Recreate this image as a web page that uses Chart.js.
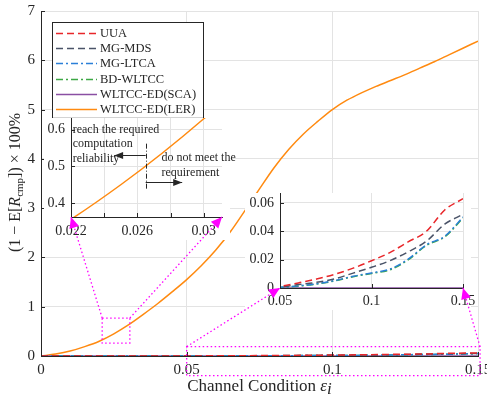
<!DOCTYPE html>
<html>
<head>
<meta charset="utf-8">
<script src="https://cdn.jsdelivr.net/npm/chart.js@4.4.1/dist/chart.umd.min.js"></script>
<style>
  body { margin: 0; width: 487px; height: 396px; overflow: hidden; background: #fff; position: relative; }
  canvas { position: absolute; }
</style>
</head>
<body>
<canvas id="mainChart" width="487" height="396" style="left:0;top:0"></canvas>
<canvas id="zoomLerChart" width="210" height="140" style="left:44px;top:100px"></canvas>
<canvas id="zoomLowChart" width="240" height="125" style="left:245px;top:185px"></canvas>
<canvas id="links" width="487" height="396" style="left:0;top:0"></canvas>
<script>
const FONT = "'Liberation Serif', 'Times New Roman', serif";
const INK = "#262626";
const GRID = "#e3e3e3";
const MAGENTA = "#ff00ff";

// series names (legend order)
const seriesNames = ["UUA", "MG-MDS", "MG-LTCA", "BD-WLTCC", "WLTCC-ED(SCA)", "WLTCC-ED(LER)"];

// channel condition samples
const epsFine = [0, 0.005, 0.01, 0.015, 0.02, 0.025, 0.03, 0.035, 0.04, 0.045, 0.05, 0.055, 0.06, 0.065, 0.07,
  0.075, 0.08, 0.085, 0.09, 0.095, 0.1, 0.105, 0.11, 0.115, 0.12, 0.125, 0.13, 0.135, 0.14, 0.145, 0.15];
const epsCoarse = [0, 0.01, 0.02, 0.03, 0.04, 0.05, 0.06, 0.07, 0.08, 0.09, 0.1, 0.11, 0.12, 0.13, 0.14, 0.15];

// (1 - E[R_cmp]) x 100%
const lerValues = [0, 0.04, 0.1, 0.19, 0.3, 0.45, 0.63, 0.84, 1.06, 1.3, 1.55, 1.83, 2.15, 2.52, 2.95,
  3.39, 3.82, 4.19, 4.5, 4.76, 5.0, 5.19, 5.34, 5.47, 5.59, 5.71, 5.84, 5.97, 6.11, 6.25, 6.39];
const uuaValues = [0, 0.0001, 0.0002, 0.0003, 0.0005, 0.0012, 0.0036, 0.0063, 0.0097, 0.014, 0.0192, 0.025, 0.0325, 0.040, 0.055, 0.063];
const mdsValues = [0, 0.0001, 0.0001, 0.0002, 0.0004, 0.0007, 0.0024, 0.004, 0.0065, 0.0105, 0.0146, 0.0192, 0.0255, 0.033, 0.045, 0.052];
const ltcaValues = [0, 0, 0.0001, 0.0002, 0.0003, 0.0005, 0.0015, 0.003, 0.0053, 0.0083, 0.0106, 0.0133, 0.0203, 0.0305, 0.0365, 0.05];
const bdValues = [0, 0, 0.0001, 0.0001, 0.0002, 0.0004, 0.0013, 0.0028, 0.005, 0.008, 0.0103, 0.0128, 0.0198, 0.030, 0.036, 0.0494];
const scaValues = [0, 0, 0, 0, 0, 0, 0, 0, 0, 0, 0, 0, 0, 0, 0, 0];

// main axes
const mainXRange = [0, 0.15];
const mainXTicks = [0, 0.05, 0.1, 0.15];
const mainXLabels = ["0", "0.05", "0.1", "0.15"];
const mainYRange = [0, 7];
const mainYTicks = [0, 1, 2, 3, 4, 5, 6, 7];
const mainYLabels = ["0", "1", "2", "3", "4", "5", "6", "7"];

// zoom on LER near threshold
const zoomLerX = [0.022, 0.0311];
const zoomLerY = [0.362, 0.632];
const zoomLerXTicks = [0.022, 0.024, 0.026, 0.028, 0.03];
const zoomLerXLabels = ["0.022", "", "0.026", "", "0.03"];
const zoomLerYTicks = [0.4, 0.5, 0.6];
const zoomLerYLabels = ["0.4", "0.5", "0.6"];
const zoomLerBoxX = [0.021, 0.0305];
const zoomLerBoxY = [0.26, 0.77];

// zoom on the low curves
const zoomLowX = [0.05, 0.15];
const zoomLowY = [0, 0.067];
const zoomLowXTicks = [0.05, 0.1, 0.15];
const zoomLowXLabels = ["0.05", "0.1", "0.15"];
const zoomLowYTicks = [0, 0.02, 0.04, 0.06];
const zoomLowYLabels = ["0", "0.02", "0.04", "0.06"];
const zoomLowBoxX = [0.05, 0.1507];
const zoomLowBoxY = [-0.4, 0.19];

// threshold note
const thresholdEps = 0.0265;
const thresholdSpan = [0.435, 0.562];
const reachArrowX = [0.0265, 0.0246];
const reachArrowY = 0.53;
const failArrowX = [0.0265, 0.0287];
const failArrowY = 0.457;
const reachText = ["reach the required", "computation", "reliability"];
const reachTextAt = [0.0221, 0.6];
const failText = ["do not meet the", "requirement"];
const failTextAt = [0.02745, 0.522];

const xTitle = [["Channel Condition ", "", 0], ["ε", "italic ", 0], ["i", "italic ", 3]];
const yTitle = [["(1 − E[", "", 0], ["R", "italic ", 0], ["cmp", "small", 3], ["]) × 100%", "", 0]];

Chart.defaults.font.family = FONT;
Chart.defaults.color = INK;
Chart.defaults.animation = false;
Chart.defaults.plugins.legend.display = false;
Chart.defaults.plugins.tooltip.enabled = false;

const styles = [
  { color: "#e8262a", dash: [7, 4] },
  { color: "#4a5368", dash: [7, 4] },
  { color: "#2b7fd8", dash: [7, 3, 2, 3] },
  { color: "#3da845", dash: [7, 3, 2, 3] },
  { color: "#8a4fa3", dash: [] },
  { color: "#ff8a10", dash: [] },
];
const seriesX = [epsCoarse, epsCoarse, epsCoarse, epsCoarse, epsCoarse, epsFine];
const seriesY = [uuaValues, mdsValues, ltcaValues, bdValues, scaValues, lerValues];

const points = (xs, ys) => xs.map((x, i) => ({ x, y: ys[i] }));
function makeDataset(i) {
  return {
    label: seriesNames[i],
    data: points(seriesX[i], seriesY[i]),
    borderColor: styles[i].color,
    borderDash: styles[i].dash,
    borderWidth: 1.5,
    pointRadius: 0,
    cubicInterpolationMode: "monotone",
  };
}

function linearAxis(range, ticks, labels, fontSize, pad, fitKey, fitValue) {
  return {
    type: "linear",
    min: range[0],
    max: range[1],
    afterBuildTicks: (s) => { s.ticks = ticks.map((v) => ({ value: v })); },
    ticks: { autoSkip: false, maxRotation: 0, padding: pad, font: { size: fontSize }, callback: (v, i) => labels[i] },
    grid: { color: GRID, drawTicks: false },
    border: { color: INK, width: 1 },
    afterFit: (s) => {
      s[fitKey] = fitValue;
      s.paddingLeft = s.paddingRight = s.paddingTop = s.paddingBottom = 0;
    },
  };
}

const innerTicks = {
  id: "innerTicks",
  afterDatasetsDraw(chart) {
    const { ctx, chartArea: a, scales: { x, y } } = chart;
    ctx.save();
    ctx.strokeStyle = INK;
    ctx.lineWidth = 1;
    ctx.beginPath();
    x.ticks.forEach((t) => {
      const p = Math.round(x.getPixelForValue(t.value)) + 0.5;
      ctx.moveTo(p, a.bottom); ctx.lineTo(p, a.bottom - 4);
    });
    y.ticks.forEach((t) => {
      const p = Math.round(y.getPixelForValue(t.value)) + 0.5;
      ctx.moveTo(a.left, p); ctx.lineTo(a.left + 4, p);
    });
    ctx.stroke();
    ctx.restore();
  },
};

const insetPaper = {
  id: "insetPaper",
  beforeDraw(chart) {
    const { ctx, chartArea: a, height } = chart;
    ctx.save();
    ctx.fillStyle = "#fff";
    ctx.fillRect(0, a.top, a.right + 8, height - a.top);
    ctx.restore();
  },
};

function drawRun(ctx, parts, size, x, y) {
  const fontOf = (p) => p[1] === "small" ? `${Math.round(size * 0.7)}px ${FONT}` : `${p[1]}${size}px ${FONT}`;
  let w = 0;
  parts.forEach((p) => { ctx.font = fontOf(p); w += ctx.measureText(p[0]).width; });
  let cx = x - w / 2;
  parts.forEach((p) => {
    ctx.font = fontOf(p);
    ctx.fillText(p[0], cx, y + p[2]);
    cx += ctx.measureText(p[0]).width;
  });
}

const axisTitles = {
  id: "axisTitles",
  afterDraw(chart) {
    const { ctx, chartArea: a } = chart;
    ctx.save();
    ctx.fillStyle = INK;
    ctx.textAlign = "left";
    ctx.textBaseline = "alphabetic";
    drawRun(ctx, xTitle, 17, (a.left + a.right) / 2, 391);
    ctx.translate(20, (a.top + a.bottom) / 2 - 1);
    ctx.rotate(-Math.PI / 2);
    drawRun(ctx, yTitle, 16, 0, 0);
    ctx.restore();
  },
};

const boxLegend = {
  id: "boxLegend",
  afterDraw(chart) {
    const { ctx, chartArea: a } = chart;
    const sets = chart.data.datasets;
    const x0 = a.left + 11, y0 = a.top + 11, w = 151, rowH = 15.3;
    const h = rowH * sets.length + 4;
    ctx.save();
    ctx.fillStyle = "#fff";
    ctx.fillRect(x0, y0, w, h);
    ctx.strokeStyle = INK;
    ctx.lineWidth = 1;
    ctx.strokeRect(x0 + 0.5, y0 + 0.5, w, h);
    ctx.font = `12.5px ${FONT}`;
    ctx.textBaseline = "middle";
    sets.forEach((ds, i) => {
      const y = Math.round(y0 + 10.7 + i * rowH) + 0.5;
      ctx.strokeStyle = ds.borderColor;
      ctx.lineWidth = ds.borderWidth;
      ctx.setLineDash(ds.borderDash);
      ctx.beginPath();
      ctx.moveTo(x0 + 4, y);
      ctx.lineTo(x0 + 45, y);
      ctx.stroke();
      ctx.setLineDash([]);
      ctx.fillStyle = INK;
      ctx.fillText(ds.label, x0 + 48, y + 0.5);
    });
    ctx.restore();
  },
};

function arrowHead(ctx, x1, y1, x2, y2, len, half) {
  const ang = Math.atan2(y2 - y1, x2 - x1);
  ctx.beginPath();
  ctx.moveTo(x2, y2);
  ctx.lineTo(x2 - len * Math.cos(ang) + half * Math.sin(ang), y2 - len * Math.sin(ang) - half * Math.cos(ang));
  ctx.lineTo(x2 - len * Math.cos(ang) - half * Math.sin(ang), y2 - len * Math.sin(ang) + half * Math.cos(ang));
  ctx.closePath();
  ctx.fill();
}

const thresholdNote = {
  id: "thresholdNote",
  afterDraw(chart) {
    const { ctx, scales: { x, y } } = chart;
    const px = Math.round(x.getPixelForValue(thresholdEps)) + 0.5;
    ctx.save();
    ctx.strokeStyle = INK;
    ctx.fillStyle = INK;
    ctx.lineWidth = 1;
    ctx.setLineDash([5, 2, 1, 2]);
    ctx.beginPath();
    ctx.moveTo(px, y.getPixelForValue(thresholdSpan[1]));
    ctx.lineTo(px, y.getPixelForValue(thresholdSpan[0]));
    ctx.stroke();
    ctx.setLineDash([]);
    [[reachArrowX, reachArrowY], [failArrowX, failArrowY]].forEach(([ax, ay]) => {
      const x1 = x.getPixelForValue(ax[0]), x2 = x.getPixelForValue(ax[1]);
      const yy = Math.round(y.getPixelForValue(ay)) + 0.5;
      ctx.beginPath();
      ctx.moveTo(x1, yy);
      ctx.lineTo(x2, yy);
      ctx.stroke();
      arrowHead(ctx, x1, yy, x2, yy, 9, 3.5);
    });
    ctx.font = `12px ${FONT}`;
    ctx.textBaseline = "middle";
    ctx.textAlign = "left";
    [[reachText, reachTextAt], [failText, failTextAt]].forEach(([lines, at]) => {
      const tx = x.getPixelForValue(at[0]);
      const ty = y.getPixelForValue(at[1]);
      lines.forEach((s, i) => ctx.fillText(s, tx, ty + i * 14.5));
    });
    ctx.restore();
  },
};

const mainChart = new Chart(document.getElementById("mainChart"), {
  type: "line",
  data: { datasets: [0, 1, 2, 3, 4, 5].map(makeDataset) },
  options: {
    responsive: false,
    devicePixelRatio: 1,
    layout: { padding: { top: 11, right: 9, left: 0, bottom: 0 } },
    scales: {
      x: linearAxis(mainXRange, mainXTicks, mainXLabels, 15, 5, "height", 40),
      y: linearAxis(mainYRange, mainYTicks, mainYLabels, 15, 6, "width", 41),
    },
  },
  plugins: [innerTicks, axisTitles, boxLegend],
});

const zoomLerChart = new Chart(document.getElementById("zoomLerChart"), {
  type: "line",
  data: { datasets: [makeDataset(5)] },
  options: {
    responsive: false,
    devicePixelRatio: 1,
    layout: { padding: { top: 18, right: 32, left: 0, bottom: 0 } },
    scales: {
      x: linearAxis(zoomLerX, zoomLerXTicks, zoomLerXLabels, 14, 6, "height", 23),
      y: linearAxis(zoomLerY, zoomLerYTicks, zoomLerYLabels, 14, 6, "width", 27),
    },
  },
  plugins: [insetPaper, innerTicks, thresholdNote],
});

const zoomLowChart = new Chart(document.getElementById("zoomLowChart"), {
  type: "line",
  data: { datasets: [0, 1, 2, 3, 4].map(makeDataset) },
  options: {
    responsive: false,
    devicePixelRatio: 1,
    layout: { padding: { top: 8, right: 22, left: 0, bottom: 0 } },
    scales: {
      x: linearAxis(zoomLowX, zoomLowXTicks, zoomLowXLabels, 14, 5, "height", 22),
      y: linearAxis(zoomLowY, zoomLowYTicks, zoomLowYLabels, 14, 6, "width", 35),
    },
  },
  plugins: [insetPaper, innerTicks],
});

// dotted zoom frames and connectors
function pagePoint(chart, vx, vy) {
  const c = chart.canvas;
  return [c.offsetLeft + chart.scales.x.getPixelForValue(vx), c.offsetTop + chart.scales.y.getPixelForValue(vy)];
}

function drawLinks() {
  const ctx = document.getElementById("links").getContext("2d");
  ctx.strokeStyle = MAGENTA;
  ctx.fillStyle = MAGENTA;
  ctx.lineWidth = 1.3;
  ctx.setLineDash([1.5, 2.5]);
  [[zoomLerBoxX, zoomLerBoxY], [zoomLowBoxX, zoomLowBoxY]].forEach(([bx, by]) => {
    const p = pagePoint(mainChart, bx[0], by[1]);
    const q = pagePoint(mainChart, bx[1], by[0]);
    ctx.strokeRect(p[0], p[1], q[0] - p[0], q[1] - p[1]);
  });
  const links = [
    [pagePoint(mainChart, zoomLerBoxX[0], zoomLerBoxY[1]), pagePoint(zoomLerChart, zoomLerX[0], zoomLerY[0])],
    [pagePoint(mainChart, zoomLerBoxX[1], zoomLerBoxY[1]), pagePoint(zoomLerChart, zoomLerX[1], zoomLerY[0])],
    [pagePoint(mainChart, zoomLowBoxX[0], zoomLowBoxY[1]), pagePoint(zoomLowChart, zoomLowX[0], zoomLowY[0])],
    [pagePoint(mainChart, zoomLowBoxX[1], zoomLowBoxY[1]), pagePoint(zoomLowChart, zoomLowX[1], zoomLowY[0])],
  ];
  links.forEach(([a, b]) => {
    ctx.setLineDash([1.5, 2.5]);
    ctx.beginPath();
    ctx.moveTo(a[0], a[1]);
    ctx.lineTo(b[0], b[1]);
    ctx.stroke();
    ctx.setLineDash([]);
    arrowHead(ctx, a[0], a[1], b[0], b[1], 11, 5);
  });
}
drawLinks();
</script>
</body>
</html>
